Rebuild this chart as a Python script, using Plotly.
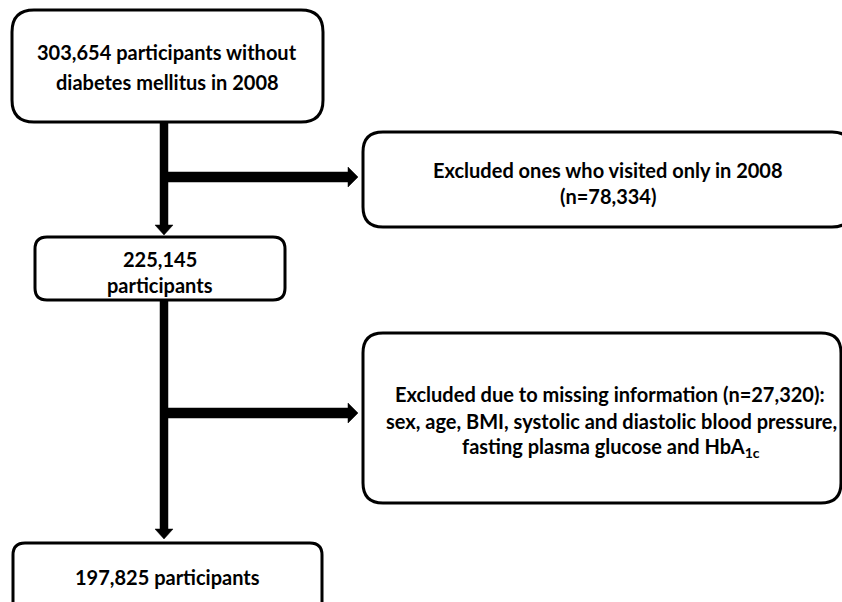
import plotly.graph_objects as go

# ---- data (flow counts) ----
start_n = [303654]
excluded_visit_n = [78334]
after_visit_n = [225145]
excluded_missing_n = [27320]
final_n = [197825]
missing_vars = ["sex", "age", "BMI", "systolic and diastolic blood pressure",
                "fasting plasma glucose and HbA<sub>1c</sub>"]

W, H = 842, 602
FONT = "Lato"

def fmt(n):
    return f"{n:,}"

def rrect(x0, y0, x1, y1, r):
    return (f"M {x0+r},{y0} L {x1-r},{y0} Q {x1},{y0} {x1},{y0+r} "
            f"L {x1},{y1-r} Q {x1},{y1} {x1-r},{y1} L {x0+r},{y1} "
            f"Q {x0},{y1} {x0},{y1-r} L {x0},{y0+r} Q {x0},{y0} {x0+r},{y0} Z")

def varrow(x, y0, y1, w=8, hw=9, hl=10):
    return (f"M {x-w/2},{y0} L {x+w/2},{y0} L {x+w/2},{y1-hl} L {x+hw},{y1-hl} "
            f"L {x},{y1} L {x-hw},{y1-hl} L {x-w/2},{y1-hl} Z")

def harrow(y, x0, x1, w=10, hw=10, hl=10):
    return (f"M {x0},{y-w/2} L {x1-hl},{y-w/2} L {x1-hl},{y-hw} L {x1},{y} "
            f"L {x1-hl},{y+hw} L {x1-hl},{y+w/2} L {x0},{y+w/2} Z")

fig = go.Figure()
fig.add_trace(go.Scatter(x=[0, W], y=[0, H], mode="markers",
                         marker=dict(opacity=0), hoverinfo="skip", showlegend=False))

shapes = []
box_line = dict(color="black", width=3)
boxes = [
    (12, 10, 323, 122, 22),
    (363, 132, 852, 227, 20),
    (35, 237, 285, 300, 12),
    (363, 333, 841, 503, 20),
    (13, 543, 322, 620, 12),
]
for b in boxes:
    shapes.append(dict(type="path", path=rrect(*b), xref="x", yref="y",
                       line=box_line, fillcolor="white", layer="above"))

arrow_fill = dict(type="path", xref="x", yref="y", fillcolor="black",
                  line=dict(color="black", width=0.5), layer="above")
shapes.append({**arrow_fill, "path": varrow(164, 122, 235)})
shapes.append({**arrow_fill, "path": harrow(177, 164, 358)})
shapes.append({**arrow_fill, "path": varrow(164, 300, 539)})
shapes.append({**arrow_fill, "path": harrow(413, 164, 358)})

texts = [
    (167, 52, f"{fmt(start_n[0])} participants without"),
    (167, 82, "diabetes mellitus in 2008"),
    (608, 170, "Excluded ones who visited only in 2008"),
    (608, 196, f"(n={fmt(excluded_visit_n[0])})"),
    (160, 259, fmt(after_visit_n[0])),
    (160, 285, "participants"),
    (610, 394, f"Excluded due to missing information (n={fmt(excluded_missing_n[0])}):"),
    (611, 421, ", ".join(missing_vars[:4]) + ","),
    (611, 447, missing_vars[4]),
    (167, 577, f"{fmt(final_n[0])} participants"),
]
annotations = [dict(x=x, y=y, xref="x", yref="y", text=f"<b>{t}</b>", showarrow=False,
                    xanchor="center", yanchor="middle",
                    font=dict(family=FONT, size=20, color="black"))
               for x, y, t in texts]

fig.update_layout(
    width=W, height=H, margin=dict(l=0, r=0, t=0, b=0),
    paper_bgcolor="white", plot_bgcolor="white",
    xaxis=dict(range=[0, W], visible=False, fixedrange=True),
    yaxis=dict(range=[H, 0], visible=False, fixedrange=True),
    shapes=shapes, annotations=annotations, showlegend=False,
)
fig.write_html("out.html", config={"displayModeBar": False},
               post_script="document.body.style.margin='0';"
                           "document.body.style.overflow='hidden';")
